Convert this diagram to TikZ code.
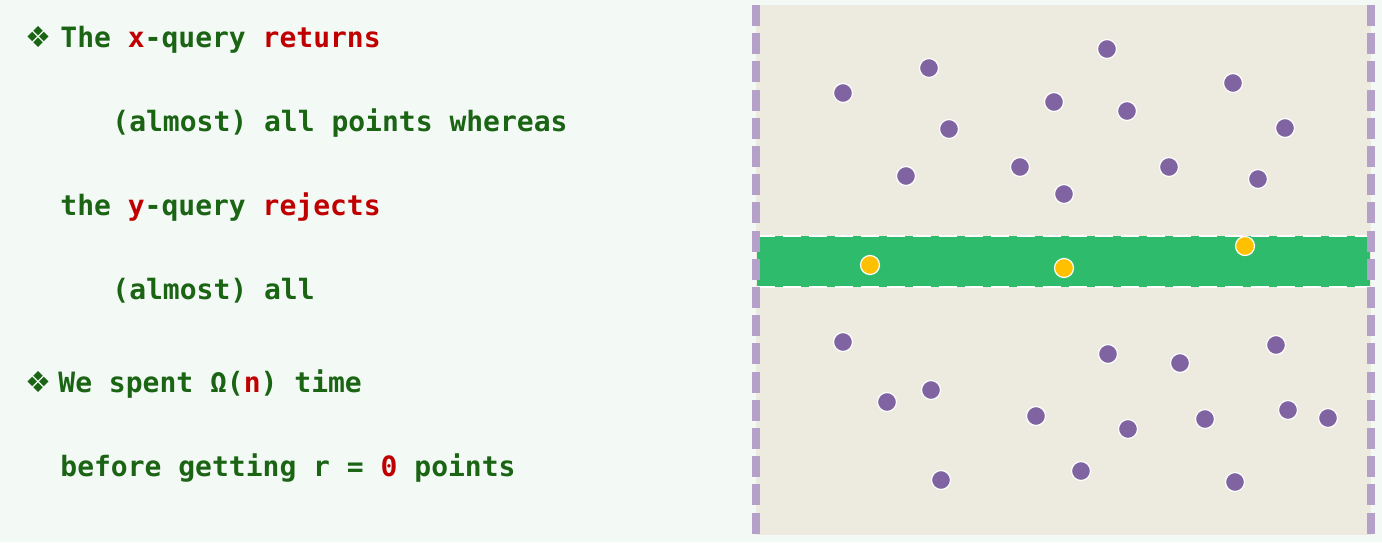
\documentclass[tikz,border=0pt]{standalone}
\usepackage{fontspec}
\setmonofont{DejaVu Sans Mono}
\newfontfamily\symfont{DejaVu Sans}
\usepackage{tikz}

\definecolor{bgmint}{HTML}{F3FAF6}
\definecolor{panel}{HTML}{EDEAE0}
\definecolor{fence}{HTML}{B4A0C8}
\definecolor{band}{HTML}{2EBB6B}
\definecolor{dotpurple}{HTML}{8064A2}
\definecolor{dotgold}{HTML}{FFC000}
\definecolor{txtgreen}{HTML}{1A6414}
\definecolor{txtred}{HTML}{C00000}

\tikzset{
  line/.style={anchor=base west, font=\ttfamily\bfseries\fontsize{14}{16}\selectfont, text=txtgreen, inner sep=0},
  bullet/.style={anchor=base west, font=\symfont\fontsize{14.5}{16}\selectfont, text=txtgreen, inner sep=0},
  pt/.style={circle, fill=dotpurple, draw=white, line width=0.6pt, minimum size=9.5pt, inner sep=0},
  hit/.style={pt, fill=dotgold}
}
\newcommand{\hl}[1]{\textcolor{txtred}{#1}}

\begin{document}
\begin{tikzpicture}[x=0.5pt,y=-0.5pt]
  % Background and bounding box
  \fill[bgmint] (0,0) rectangle (1382,542);
  \useasboundingbox (0,0) rectangle (1382,542);

  % Text on the left
  \node[bullet] (b1) at (25,47) {❖};
  \node[line] (l1) at (60,47) {The \hl{x}-query \hl{returns}};
  \node[line] (l2) at (112,131) {(almost) all points whereas};
  \node[line] (l3) at (60,215) {the \hl{y}-query \hl{rejects}};
  \node[line] (l4) at (112,299) {(almost) all};
  \node[bullet] (b2) at (25,392) {❖};
  \node[line] (l5) at (58,392) {We spent Ω(\hl{n}) time};
  \node[line] (l6) at (60,476) {before getting r = \hl{0} points};

  % Point panel
  \fill[panel] (756,5) rectangle (1371,535);

  % Query strip
  \fill[band] (757,236) rectangle (1370,287);
  \draw[white, line width=1pt, dash pattern=on 9pt off 4pt] (757,236) -- (1370,236);
  \draw[white, line width=1pt, dash pattern=on 9pt off 4pt] (757,287) -- (1370,287);

  % Dashed fences
  \draw[fence, line width=3.6pt, dash pattern=on 10.5pt off 3.6pt] (756,5) -- (756,535);
  \draw[fence, line width=3.6pt, dash pattern=on 10.5pt off 3.6pt] (1371,5) -- (1371,535);

  % Points outside the strip
  \foreach \px/\py [count=\i] in {843/93, 929/68, 1107/49, 1054/102, 1127/111, 1233/83,
      949/129, 1285/128, 906/176, 1020/167, 1064/194, 1169/167, 1258/179,
      843/342, 1108/354, 1180/363, 1276/345, 887/402, 931/390, 1036/416,
      1128/429, 1205/419, 1288/410, 1328/418, 941/480, 1081/471, 1235/482}
    \node[pt] (p\i) at (\px,\py) {};

  % Points inside the strip
  \node[hit] (q1) at (870,265) {};
  \node[hit] (q2) at (1064,268) {};
  \node[hit] (q3) at (1245,246) {};

\end{tikzpicture}
\end{document}
